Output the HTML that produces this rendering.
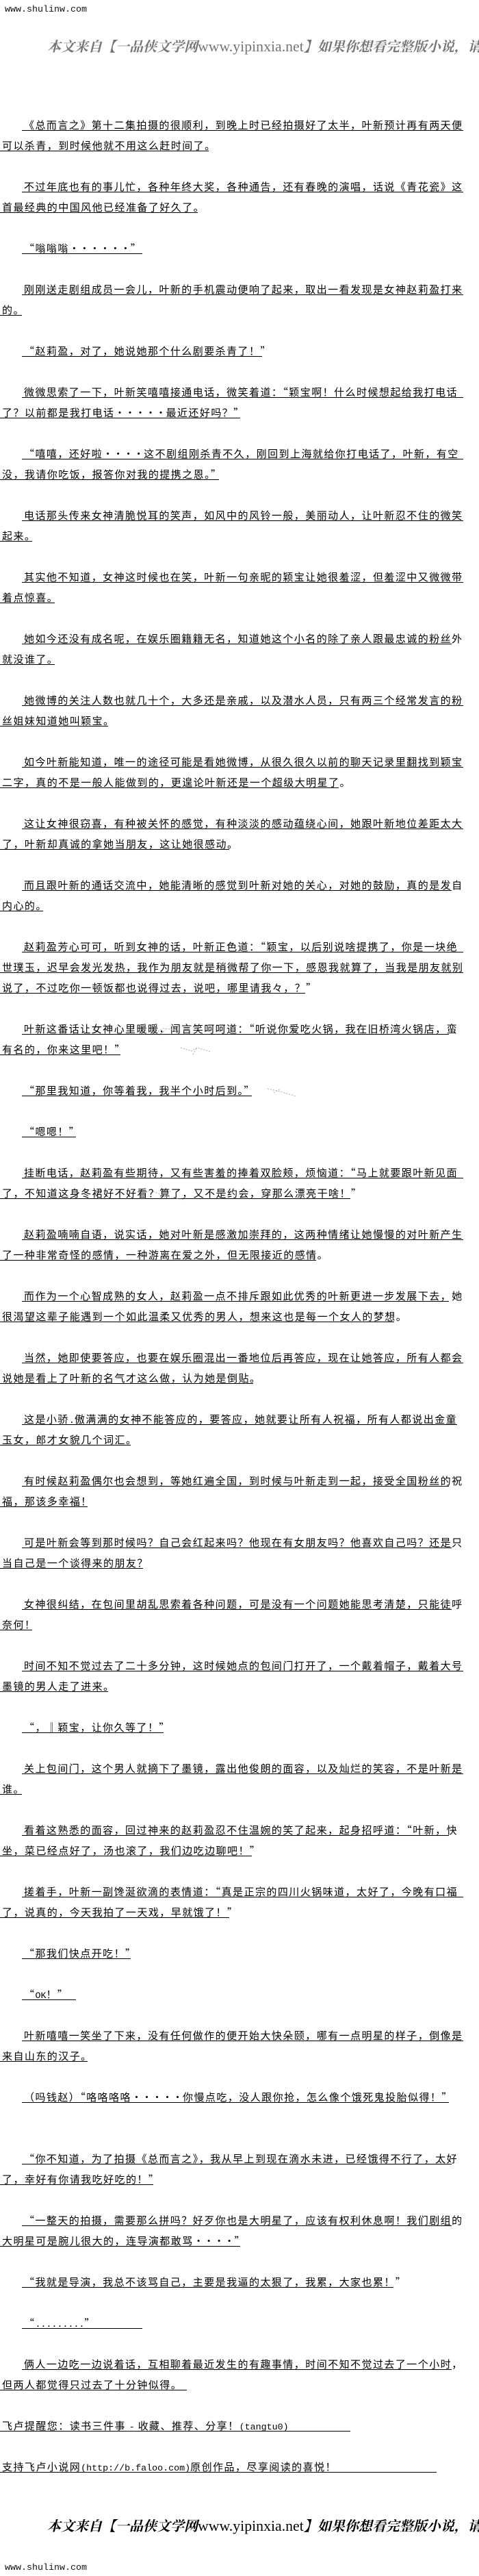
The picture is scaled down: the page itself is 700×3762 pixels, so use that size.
<!DOCTYPE html>
<html lang="zh-CN">
<head>
<meta charset="utf-8">
<title>总而言之</title>
<style>
html,body{margin:0;padding:0;background:#fff;}
body{position:relative;width:700px;height:3762px;overflow:hidden;color:#000;font-family:"Liberation Sans","Noto Sans CJK SC",sans-serif;}
.l{position:absolute;height:20px;box-sizing:border-box;border-bottom:1px solid #000;padding-left:3px;line-height:24px;font-family:"Noto Sans CJK SC","WenQuanYi Zen Hei",sans-serif;font-size:15px;letter-spacing:1.45px;white-space:nowrap;}
.i{left:32px;}
.n{left:0;}
.l i{display:inline-block;width:15px;text-align:center;font-style:normal;}
.m{font-family:"Liberation Mono",monospace;font-size:13.33px;letter-spacing:0;}
.site{position:absolute;left:7px;font-family:"Liberation Mono",monospace;font-size:13.33px;line-height:16px;white-space:nowrap;color:#111;}
.wm{position:absolute;left:69px;width:640px;height:32px;line-height:32px;font-family:"Noto Serif CJK SC","Liberation Serif",serif;font-size:20px;font-weight:700;font-style:italic;white-space:nowrap;}
.wm b{font-family:"Liberation Serif",serif;font-size:21.8px;font-weight:400;font-style:normal;}
svg{position:absolute;left:0;top:0;}
</style>
</head>
<body>
<div class="site" style="top:7px">www.shulinw.com</div>
<div class="wm" style="top:51px;color:#757575">本文来自【一品侠文学网<b>www.yipinxia.net</b>】如果你想看完整版小说，请</div>

<div class="l i" style="top:171px;width:645px">《总而言之》第十二集拍摄的很顺利，到晚上时已经拍摄好了太半，叶新预计再有两天便</div>
<div class="l n" style="top:201px;width:305px">可以杀青，到时候他就不用这么赶时间了。</div>
<div class="l i" style="top:261px;width:645px">不过年底也有的事儿忙，各种年终大奖，各种通告，还有春晚的演唱，话说《青花瓷》这</div>
<div class="l n" style="top:291px;width:289px">首最经典的中国风他已经准备了好久了。</div>
<div class="l i" style="top:351px;width:176px">“嗡嗡嗡<i>·</i><i>·</i><i>·</i><i>·</i><i>·</i><i>·</i>”</div>
<div class="l i" style="top:411px;width:645px">刚刚送走剧组成员一会儿，叶新的手机震动便响了起来，取出一看发现是女神赵莉盈打来</div>
<div class="l n" style="top:441px;width:32px">的。</div>
<div class="l i" style="top:501px;width:351px">“赵莉盈，对了，她说她那个什么剧要杀青了！”</div>
<div class="l i" style="top:561px;width:645px">微微思索了一下，叶新笑嘻嘻接通电话，微笑着道：“颖宝啊！什么时候想起给我打电话</div>
<div class="l n" style="top:591px;width:351px">了？以前都是我打电话<i>·</i><i>·</i><i>·</i><i>·</i><i>·</i>最近还好吗？”</div>
<div class="l i" style="top:651px;width:645px">“嘻嘻，还好啦<i>·</i><i>·</i><i>·</i><i>·</i>这不剧组刚杀青不久，刚回到上海就给你打电话了，叶新，有空</div>
<div class="l n" style="top:681px;width:320px">没，我请你吃饭，报答你对我的提携之恩。”</div>
<div class="l i" style="top:741px;width:645px">电话那头传来女神清脆悦耳的笑声，如风中的风铃一般，美丽动人，让叶新忍不住的微笑</div>
<div class="l n" style="top:771px;width:47px">起来。</div>
<div class="l i" style="top:831px;width:645px">其实他不知道，女神这时候也在笑，叶新一句亲昵的颖宝让她很羞涩，但羞涩中又微微带</div>
<div class="l n" style="top:861px;width:80px">着点惊喜。</div>
<div class="l i" style="top:921px;width:628px">她如今还没有成名呢，在娱乐圈籍籍无名，知道她这个小名的除了亲人跟最忠诚的粉丝外</div>
<div class="l n" style="top:951px;width:80px">就没谁了。</div>
<div class="l i" style="top:1011px;width:645px">她微博的关注人数也就几十个，大多还是亲戚，以及潜水人员，只有两三个经常发言的粉</div>
<div class="l n" style="top:1041px;width:158px">丝姐妹知道她叫颖宝。</div>
<div class="l i" style="top:1101px;width:645px">如今叶新能知道，唯一的途径可能是看她微博，从很久很久以前的聊天记录里翻找到颖宝</div>
<div class="l n" style="top:1131px;width:495px">二字，真的不是一般人能做到的，更遑论叶新还是一个超级大明星了。</div>
<div class="l i" style="top:1191px;width:645px">这让女神很窃喜，有种被关怀的感觉，有种淡淡的感动蕴绕心间，她跟叶新地位差距太大</div>
<div class="l n" style="top:1221px;width:335px">了，叶新却真诚的拿她当朋友，这让她很感动。</div>
<div class="l i" style="top:1281px;width:628px">而且跟叶新的通话交流中，她能清晰的感觉到叶新对她的关心，对她的鼓励，真的是发自</div>
<div class="l n" style="top:1311px;width:63px">内心的。</div>
<div class="l i" style="top:1371px;width:645px">赵莉盈芳心可可，听到女神的话，叶新正色道：“颖宝，以后别说啥提携了，你是一块绝</div>
<div class="l n" style="top:1401px;width:677px">世璞玉，迟早会发光发热，我作为朋友就是稍微帮了你一下，感恩我就算了，当我是朋友就别</div>
<div class="l n" style="top:1431px;width:446px">说了，不过吃你一顿饭都也说得过去，说吧，哪里请我々，？”</div>
<div class="l i" style="top:1491px;width:624px">叶新这番话让女神心里暖暖，闻言笑呵呵道：“听说你爱吃火锅，我在旧桥湾火锅店，蛮</div>
<div class="l n" style="top:1521px;width:176px">有名的，你来这里吧！”</div>
<div class="l i" style="top:1581px;width:336px">“那里我知道，你等着我，我半个小时后到。”</div>
<div class="l i" style="top:1641px;width:79px">“嗯嗯！”</div>
<div class="l i" style="top:1701px;width:645px">挂断电话，赵莉盈有些期待，又有些害羞的捧着双脸颊，烦恼道：“马上就要跟叶新见面</div>
<div class="l n" style="top:1731px;width:512px">了，不知道这身冬裙好不好看？算了，又不是约会，穿那么漂亮干啥！”</div>
<div class="l i" style="top:1791px;width:645px">赵莉盈喃喃自语，说实话，她对叶新是感激加崇拜的，这两种情绪让她慢慢的对叶新产生</div>
<div class="l n" style="top:1821px;width:462px">了一种非常奇怪的感情，一种游离在爱之外，但无限接近的感情。</div>
<div class="l i" style="top:1881px;width:624px">而作为一个心智成熟的女人，赵莉盈一点不排斥跟如此优秀的叶新更进一步发展下去，她</div>
<div class="l n" style="top:1911px;width:576px">很渴望这辈子能遇到一个如此温柔又优秀的男人，想来这也是每一个女人的梦想。</div>
<div class="l i" style="top:1971px;width:645px">当然，她即使要答应，也要在娱乐圈混出一番地位后再答应，现在让她答应，所有人都会</div>
<div class="l n" style="top:2001px;width:370px">说她是看上了叶新的名气才这么做，认为她是倒贴。</div>
<div class="l i" style="top:2061px;width:636px">这是小骄<span class="m">.</span>傲满满的女神不能答应的，要答应，她就要让所有人祝福，所有人都说出金童</div>
<div class="l n" style="top:2091px;width:191px">玉女，郎才女貌几个词汇。</div>
<div class="l i" style="top:2151px;width:624px">有时候赵莉盈偶尔也会想到，等她红遍全国，到时候与叶新走到一起，接受全国粉丝的祝</div>
<div class="l n" style="top:2181px;width:128px">福，那该多幸福！</div>
<div class="l i" style="top:2241px;width:628px">可是叶新会等到那时候吗？自己会红起来吗？他现在有女朋友吗？他喜欢自己吗？还是只</div>
<div class="l n" style="top:2271px;width:209px">当自己是一个谈得来的朋友？</div>
<div class="l i" style="top:2331px;width:628px">女神很纠结，在包间里胡乱思索着各种问题，可是没有一个问题她能思考清楚，只能徒呼</div>
<div class="l n" style="top:2361px;width:47px">奈何！</div>
<div class="l i" style="top:2421px;width:645px">时间不知不觉过去了二十多分钟，这时候她点的包间门打开了，一个戴着帽子，戴着大号</div>
<div class="l n" style="top:2451px;width:158px">墨镜的男人走了进来。</div>
<div class="l i" style="top:2511px;width:207px">“，‖颖宝，让你久等了！”</div>
<div class="l i" style="top:2571px;width:645px">关上包间门，这个男人就摘下了墨镜，露出他俊朗的面容，以及灿烂的笑容，不是叶新是</div>
<div class="l n" style="top:2601px;width:32px">谁。</div>
<div class="l i" style="top:2661px;width:624px">看着这熟悉的面容，回过神来的赵莉盈忍不住温婉的笑了起来，起身招呼道：“叶新，快</div>
<div class="l n" style="top:2691px;width:368px">坐，菜已经点好了，汤也滚了，我们边吃边聊吧！”</div>
<div class="l i" style="top:2751px;width:645px">搓着手，叶新一副馋涎欲滴的表情道：“真是正宗的四川火锅味道，太好了，今晚有口福</div>
<div class="l n" style="top:2781px;width:335px">了，说真的，今天我拍了一天戏，早就饿了！”</div>
<div class="l i" style="top:2841px;width:159px">“那我们快点开吃！”</div>
<div class="l i" style="top:2901px;width:79px">“<span class="m">OK</span>！”</div>
<div class="l i" style="top:2961px;width:645px">叶新嘻嘻一笑坐了下来，没有任何做作的便开始大快朵颐，哪有一点明星的样子，倒像是</div>
<div class="l n" style="top:2991px;width:128px">来自山东的汉子。</div>
<div class="l i" style="top:3051px;width:624px">（吗钱赵）“咯咯咯咯<i>·</i><i>·</i><i>·</i><i>·</i><i>·</i>你慢点吃，没人跟你抢，怎么像个饿死鬼投胎似得！”</div>
<div class="l i" style="top:3141px;width:628px">“你不知道，为了拍摄《总而言之》，我从早上到现在滴水未进，已经饿得不行了，太好</div>
<div class="l n" style="top:3171px;width:224px">了，幸好有你请我吃好吃的！”</div>
<div class="l i" style="top:3231px;width:628px">“一整天的拍摄，需要那么拼吗？好歹你也是大明星了，应该有权利休息啊！我们剧组的</div>
<div class="l n" style="top:3261px;width:351px">大明星可是腕儿很大的，连导演都敢骂<i>·</i><i>·</i><i>·</i><i>·</i>”</div>
<div class="l i" style="top:3321px;width:543px">“我就是导演，我总不该骂自己，主要是我逼的太狠了，我累，大家也累！”</div>
<div class="l i" style="top:3381px;width:176px">“<span class="m">.........</span>”</div>
<div class="l i" style="top:3441px;width:628px">俩人一边吃一边说着话，互相聊着最近发生的有趣事情，时间不知不觉过去了一个小时，</div>
<div class="l n" style="top:3471px;width:273px">但两人都觉得只过去了十分钟似得。</div>
<div class="l n" style="top:3531px;width:512px">飞卢提醒您：读书三件事 <span class="m">-</span> 收藏、推荐、分享！<span class="m">(tangtu0)</span></div>
<div class="l n" style="top:3591px;width:638px">支持飞卢小说网<span class="m">(http://b.faloo.com)</span>原创作品，尽享阅读的喜悦！</div>

<div class="wm" style="top:3672px;color:#000">本文来自【一品侠文学网<b>www.yipinxia.net</b>】如果你想看完整版小说，请</div>
<div class="site" style="top:3743px">www.shulinw.com</div>

<svg width="700" height="3762" viewBox="0 0 700 3762" fill="none" stroke="#aab" stroke-width="1" stroke-dasharray="2 2">
<path d="M224 1510l14-8 20 2M232 1512l10-8"/>
<path d="M264 1530l16 5 8-5 20 6M282 1540l6-10"/>
<path d="M391 1590l18 4 24 7M400 1596l10-6"/>
<path d="M224 1740l20 8 26 4M240 1750l10-12"/>
<path d="M348 1800l18 4 20 6M362 1812l6-14"/>
</svg>
</body>
</html>
